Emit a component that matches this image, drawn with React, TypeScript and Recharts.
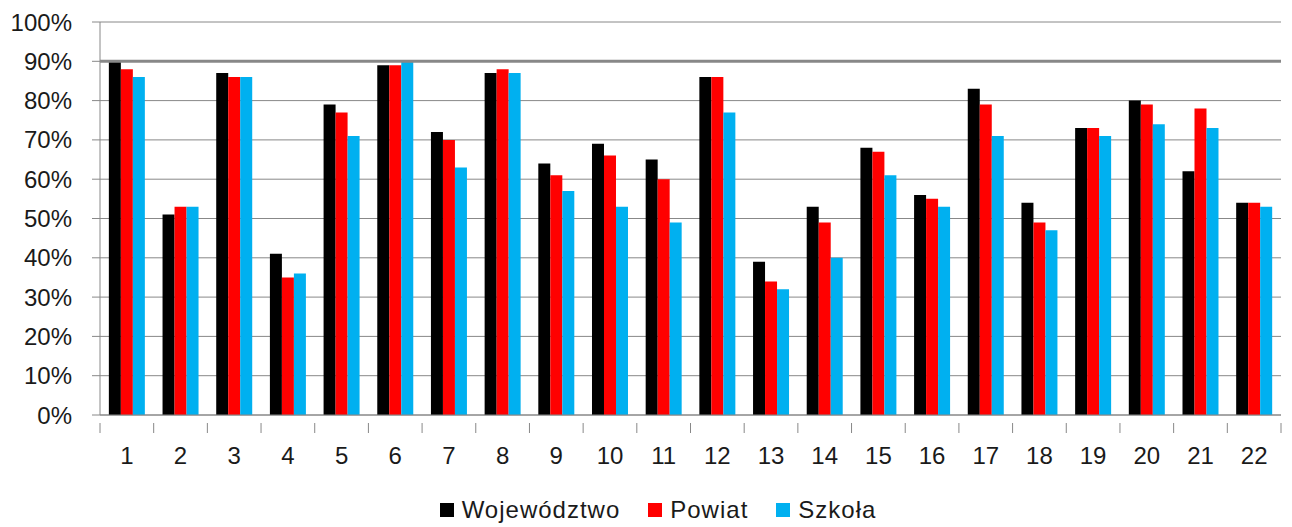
import React from 'react';
import { BarChart, Bar, XAxis, YAxis, CartesianGrid, Legend, ReferenceLine } from 'recharts';

const categories = ['1', '2', '3', '4', '5', '6', '7', '8', '9', '10', '11', '12', '13', '14', '15', '16', '17', '18', '19', '20', '21', '22'];
const wojewodztwo = [0.90, 0.51, 0.87, 0.41, 0.79, 0.89, 0.72, 0.87, 0.64, 0.69, 0.65, 0.86, 0.39, 0.53, 0.68, 0.56, 0.83, 0.54, 0.73, 0.80, 0.62, 0.54];
const powiat = [0.88, 0.53, 0.86, 0.35, 0.77, 0.89, 0.70, 0.88, 0.61, 0.66, 0.60, 0.86, 0.34, 0.49, 0.67, 0.55, 0.79, 0.49, 0.73, 0.79, 0.78, 0.54];
const szkola = [0.86, 0.53, 0.86, 0.36, 0.71, 0.90, 0.63, 0.87, 0.57, 0.53, 0.49, 0.77, 0.32, 0.40, 0.61, 0.53, 0.71, 0.47, 0.71, 0.74, 0.73, 0.53];
const yTicks = [0, 0.1, 0.2, 0.3, 0.4, 0.5, 0.6, 0.7, 0.8, 0.9, 1];

const series = [
  { key: 'woj', name: 'Województwo', color: '#000000' },
  { key: 'pow', name: 'Powiat', color: '#ff0000' },
  { key: 'szk', name: 'Szkoła', color: '#00b0f0' },
];

const data = categories.map((c, i) => ({ name: c, woj: wojewodztwo[i], pow: powiat[i], szk: szkola[i] }));

const FONT = '"Liberation Sans", Arial, sans-serif';
const W = 1292;
const H = 527;
const LEFT = 100;
const RIGHT = 11;
const BAND = (W - LEFT - RIGHT) / categories.length;

// category labels, with tick marks drawn between categories like Excel does
const XTick = (props: any) => {
  const { x, y, payload, index } = props;
  const isLast = index === categories.length - 1;
  return (
    <g>
      <line x1={x - BAND / 2} x2={x - BAND / 2} y1={y} y2={y + 10} stroke="#888888" strokeWidth={1} />
      {isLast && <line x1={x + BAND / 2} x2={x + BAND / 2} y1={y} y2={y + 10} stroke="#888888" strokeWidth={1} />}
      <text x={x} y={y + 35} textAnchor="middle" dominantBaseline="middle" fontFamily={FONT} fontSize={24} fill="#1a1a1a">
        {payload.value}
      </text>
    </g>
  );
};

const LegendContent = () => (
  <div style={{ display: 'flex', justifyContent: 'center', alignItems: 'center', fontFamily: FONT, fontSize: 24, color: '#1a1a1a', letterSpacing: 1, paddingLeft: 24 }}>
    {series.map((s, i) => (
      <div key={s.key} style={{ display: 'flex', alignItems: 'center', marginRight: i < series.length - 1 ? 28 : 0 }}>
        <span style={{ width: 14, height: 14, background: s.color, display: 'inline-block', marginRight: 8 }} />
        <span>{s.name}</span>
      </div>
    ))}
  </div>
);

export default function App() {
  return (
    <div style={{ position: 'fixed', left: 0, top: 0, background: '#fff' }}>
      <BarChart
        width={W}
        height={H}
        data={data}
        margin={{ top: 22, right: RIGHT, bottom: 0, left: 0 }}
        barCategoryGap="16.5%"
        barGap={0}
      >
        <CartesianGrid vertical={false} stroke="#888888" strokeWidth={1} />
        <XAxis
          dataKey="name"
          height={112}
          stroke="#888888"
          tickLine={false}
          tick={<XTick />}
          interval={0}
        />
        <YAxis
          width={LEFT}
          domain={[0, 1]}
          ticks={yTicks}
          interval={0}
          stroke="#888888"
          tickSize={8}
          tickMargin={20}
          tickFormatter={(v: number) => `${Math.round(v * 100)}%`}
          tick={{ fontFamily: FONT, fontSize: 24, fill: '#1a1a1a' }}
        />
        <ReferenceLine y={0.9} stroke="#888888" strokeWidth={3} />
        {series.map(s => (
          <Bar key={s.key} dataKey={s.key} name={s.name} fill={s.color} isAnimationActive={false} />
        ))}
        <Legend
          layout="horizontal"
          verticalAlign="middle"
          align="center"
          content={<LegendContent />}
          wrapperStyle={{ top: 496, left: 0, width: W }}
        />
      </BarChart>
    </div>
  );
}
